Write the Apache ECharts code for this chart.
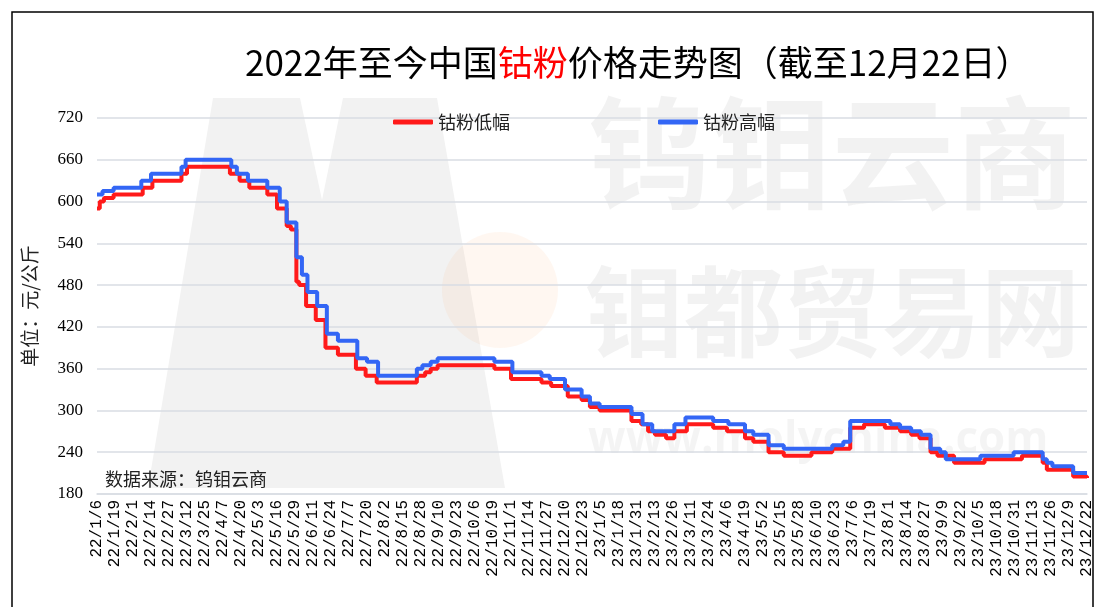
<!DOCTYPE html>
<html>
<head>
<meta charset="utf-8">
<script src="https://cdn.jsdelivr.net/npm/echarts@6/dist/echarts.min.js"></script>
<style>
html,body{margin:0;padding:0;background:#fff;}
#c{width:1103px;height:607px;}
</style>
</head>
<body>
<div id="c"></div>
<script>
// x-axis tick labels (every 13 days)
const xTicks = ["22/1/6","22/1/19","22/2/1","22/2/14","22/2/27","22/3/12","22/3/25","22/4/7","22/4/20","22/5/3","22/5/16","22/5/29","22/6/11","22/6/24","22/7/7","22/7/20","22/8/2","22/8/15","22/8/28","22/9/10","22/9/23","22/10/6","22/10/19","22/11/1","22/11/14","22/11/27","22/12/10","22/12/23","23/1/5","23/1/18","23/1/31","23/2/13","23/2/26","23/3/11","23/3/24","23/4/6","23/4/19","23/5/2","23/5/15","23/5/28","23/6/10","23/6/23","23/7/6","23/7/19","23/8/1","23/8/14","23/8/27","23/9/9","23/9/22","23/10/5","23/10/18","23/10/31","23/11/13","23/11/26","23/12/9","23/12/22"];
const yTicks = [180,240,300,360,420,480,540,600,660,720];

// 钴粉低幅 price change dates and values (元/公斤)
const lowDates = ["2022-01-06","2022-01-08","2022-01-11","2022-01-18","2022-02-08","2022-02-15","2022-03-08","2022-03-12","2022-04-12","2022-04-19","2022-04-26","2022-05-09","2022-05-16","2022-05-23","2022-05-26","2022-05-30","2022-06-01","2022-06-06","2022-06-13","2022-06-20","2022-06-29","2022-07-12","2022-07-19","2022-07-27","2022-08-25","2022-08-31","2022-09-04","2022-09-09","2022-10-20","2022-11-01","2022-11-23","2022-11-30","2022-12-12","2022-12-22","2022-12-28","2023-01-04","2023-01-27","2023-02-03","2023-02-08","2023-02-13","2023-02-21","2023-02-27","2023-03-08","2023-03-27","2023-04-06","2023-04-19","2023-04-25","2023-05-06","2023-05-17","2023-06-06","2023-06-21","2023-07-04","2023-07-14","2023-07-29","2023-08-09","2023-08-17","2023-08-23","2023-08-31","2023-09-05","2023-09-17","2023-10-09","2023-11-05","2023-11-20","2023-11-23","2023-12-12","2023-12-22"];
const lowValues = [590,600,605,610,620,630,640,650,640,630,620,610,590,565,560,485,480,450,430,390,380,360,350,340,350,355,360,365,360,345,340,335,320,315,305,300,285,280,270,265,260,270,280,275,270,260,255,240,235,240,245,275,280,275,270,265,260,240,235,225,230,235,225,215,205,203];

// 钴粉高幅 price change dates and values (元/公斤)
const highDates = ["2022-01-06","2022-01-10","2022-01-18","2022-02-07","2022-02-14","2022-03-08","2022-03-11","2022-04-13","2022-04-17","2022-04-25","2022-05-09","2022-05-18","2022-05-23","2022-05-30","2022-06-03","2022-06-07","2022-06-14","2022-06-21","2022-06-29","2022-07-13","2022-07-20","2022-07-28","2022-08-25","2022-08-29","2022-09-04","2022-09-09","2022-10-20","2022-11-02","2022-11-23","2022-11-29","2022-12-10","2022-12-22","2022-12-28","2023-01-04","2023-01-27","2023-02-04","2023-02-11","2023-02-27","2023-03-07","2023-03-27","2023-04-07","2023-04-19","2023-04-25","2023-05-06","2023-05-17","2023-06-21","2023-06-29","2023-07-04","2023-08-02","2023-08-09","2023-08-17","2023-08-24","2023-08-31","2023-09-07","2023-09-11","2023-10-06","2023-10-30","2023-11-20","2023-11-23","2023-11-27","2023-12-12","2023-12-22"];
const highValues = [610,615,620,630,640,650,660,650,640,630,620,600,570,520,495,470,450,410,400,375,370,350,360,365,370,375,370,355,350,345,330,320,310,305,295,280,270,280,290,285,280,270,265,250,245,250,255,285,280,275,270,265,245,240,230,235,240,230,225,220,210,210];

const startDate = "2022-01-06";
function dayIndex(s){
  const p = s.split('-').map(Number);
  const q = startDate.split('-').map(Number);
  return Math.round((Date.UTC(p[0],p[1]-1,p[2]) - Date.UTC(q[0],q[1]-1,q[2]))/86400000);
}
function pairs(dates, vals){ return dates.map((d,i)=>[dayIndex(d), vals[i]]); }

const chart = echarts.init(document.getElementById('c'), null, {renderer:'canvas'});
const CJK = '"Noto Sans CJK SC", sans-serif';
const option = {
  animation:false,
  backgroundColor:'#fff',
  title:{
    left:240, top:40,
    text:'{a|2022年至今中国}{r|钴粉}{a|价格走势图（截至12月22日）}',
    textStyle:{fontWeight:'normal', rich:{
      a:{fontSize:35,color:'#000',fontFamily:CJK,fontWeight:'normal'},
      r:{fontSize:35,color:'#ff0000',fontFamily:CJK,fontWeight:'normal'}
    }}
  },
  legend:[
    {left:388, top:108, data:['钴粉低幅'], itemWidth:40, itemHeight:5, icon:'roundRect', itemGap:10,
     textStyle:{fontSize:18, color:'#222', fontFamily:CJK}},
    {left:653, top:108, data:['钴粉高幅'], itemWidth:40, itemHeight:5, icon:'roundRect', itemGap:10,
     textStyle:{fontSize:18, color:'#222', fontFamily:CJK}}
  ],
  grid:{left:97, right:16, top:118, bottom:113, containLabel:false},
  xAxis:{
    type:'value', min:0, max:715, interval:13,
    axisLine:{show:true, lineStyle:{color:'#d9dde3', width:1.5}},
    axisTick:{show:false},
    splitLine:{show:false},
    axisLabel:{rotate:90, margin:6, color:'#000', fontSize:16, fontFamily:'"Liberation Mono", monospace',
      formatter:function(v){ return xTicks[Math.round(v/13)] || ''; }}
  },
  yAxis:{
    type:'value', min:yTicks[0], max:yTicks[yTicks.length-1], interval:60,
    axisLine:{show:false}, axisTick:{show:false},
    splitLine:{lineStyle:{color:'#d9dde3', width:1.5}},
    axisLabel:{margin:14, color:'#000', fontSize:17, fontFamily:'"Liberation Serif", serif'},
    name:'单位：元/公斤', nameLocation:'middle', nameRotate:90, nameGap:58,
    nameTextStyle:{fontSize:19, color:'#222', fontFamily:CJK}
  },
  graphic:[
    {type:'polygon', silent:true, z:-10, shape:{points:[[148,488],[213,98],[300,98],[322,200],[343,98],[437,98],[505,488]]}, style:{fill:'#f2f2f2'}},
    {type:'circle', silent:true, z:-9, shape:{cx:500,cy:290,r:58}, style:{fill:'rgba(255,150,80,0.08)'}},
    {type:'text', silent:true, z:-9, left:588, top:92, style:{text:'钨钼云商', fontSize:122, fontWeight:'bold', fontFamily:CJK, fill:'rgba(0,0,0,0.05)'}},
    {type:'text', silent:true, z:-9, left:585, top:262, style:{text:'钼都贸易网', fontSize:99, fontWeight:'bold', fontFamily:CJK, fill:'rgba(0,0,0,0.05)'}},
    {type:'text', silent:true, z:-9, left:588, top:418, style:{text:'www.molychina.com', fontSize:44, fontWeight:'bold', fontFamily:'"Open Sans", sans-serif', fill:'rgba(0,0,0,0.045)'}},
    {type:'text', silent:true, z:10, left:105, top:470, style:{text:'数据来源：钨钼云商', fontSize:18, fontFamily:CJK, fill:'#222'}},
    {type:'rect', silent:true, z:20, shape:{x:12,y:12,width:1081,height:630}, style:{fill:'none', stroke:'#000', lineWidth:1.5}}
  ],
  series:[
    {name:'钴粉低幅', type:'line', step:'end', showSymbol:false, data:pairs(lowDates, lowValues),
     lineStyle:{color:'#ff1a1a', width:4}, itemStyle:{color:'#ff1a1a'}},
    {name:'钴粉高幅', type:'line', step:'end', showSymbol:false, data:pairs(highDates, highValues),
     lineStyle:{color:'#3366f5', width:4}, itemStyle:{color:'#3366f5'}}
  ]
};
chart.setOption(option);
</script>
</body>
</html>
